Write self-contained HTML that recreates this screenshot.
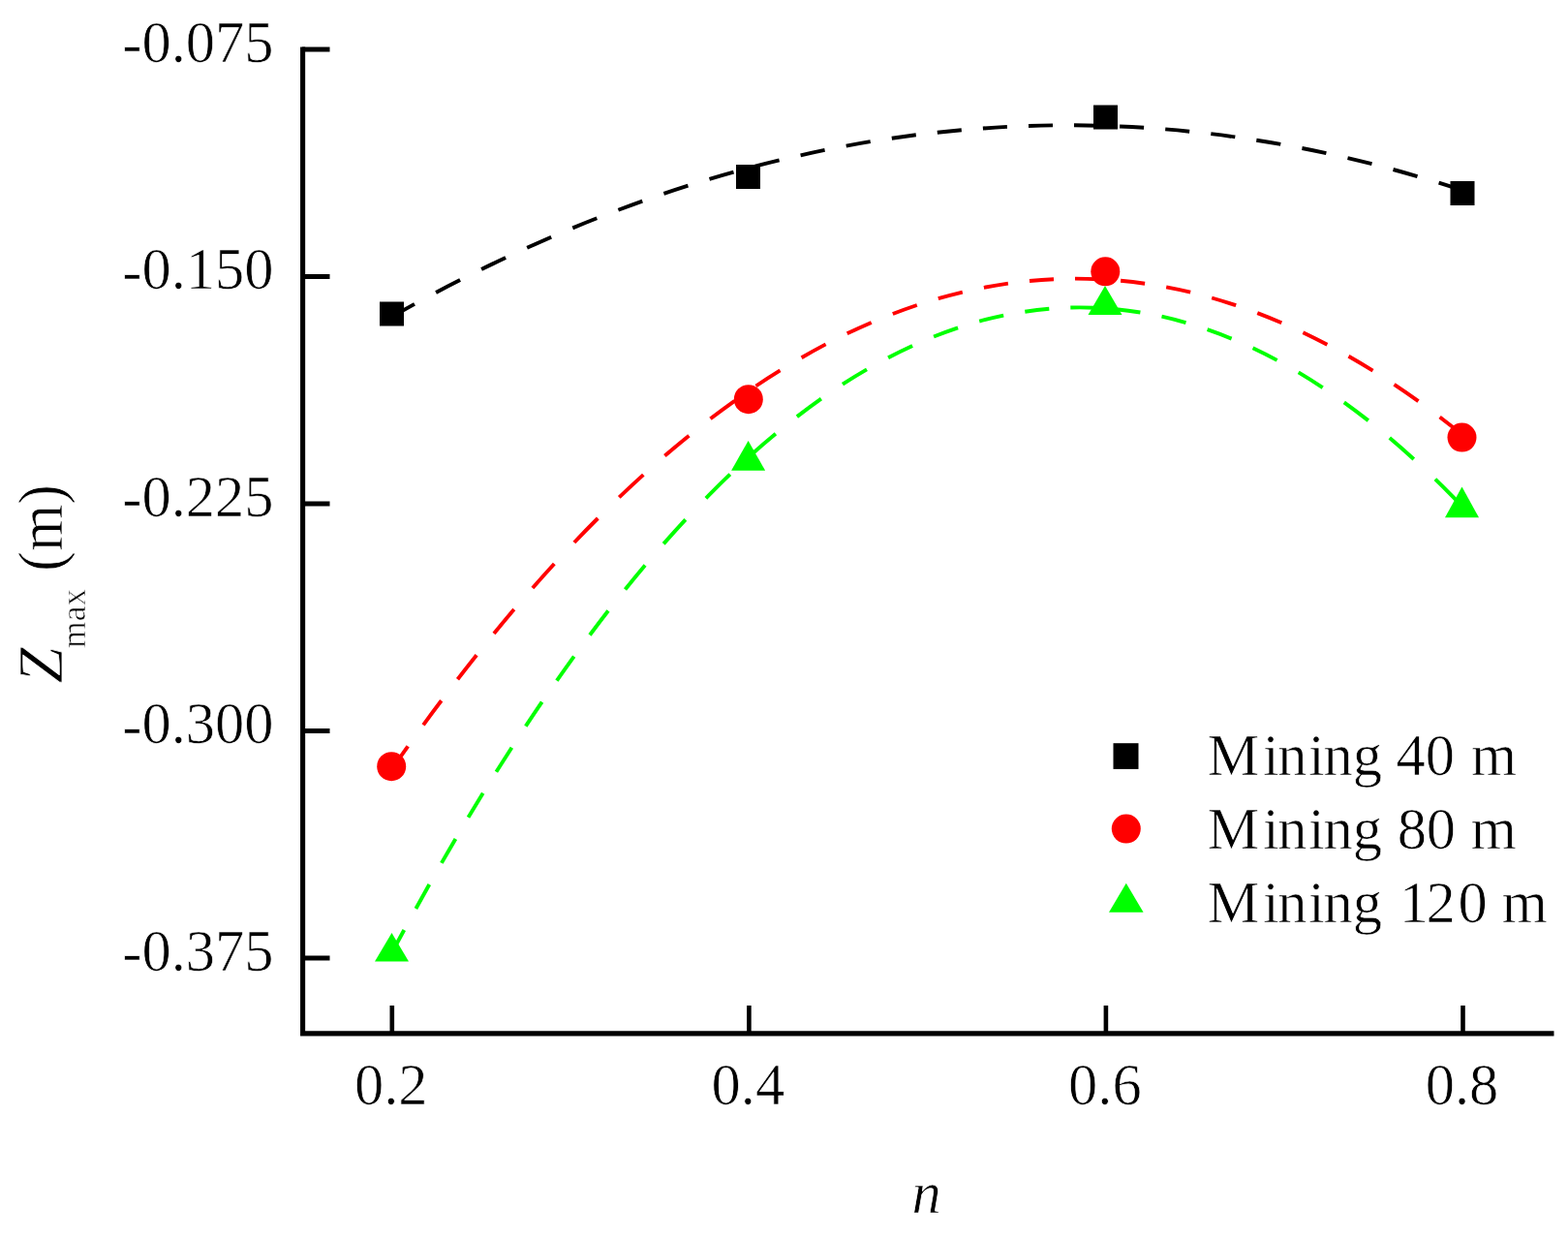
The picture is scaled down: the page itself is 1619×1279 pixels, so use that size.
<!DOCTYPE html>
<html><head><meta charset="utf-8"><style>
html,body{margin:0;padding:0;background:#fff;}
svg{display:block;}
.t{font-family:"Liberation Serif","Times New Roman",serif;font-size:60.5px;fill:#000;stroke:#fff;stroke-width:0.7px;stroke-linejoin:round;}
</style></head><body>
<svg width="1619" height="1279" viewBox="0 0 1619 1279">
<path d="M404.8,326.8Q416.4,320.3 428.0,313.9M450.1,302.0Q462.6,295.4 475.1,289.1M497.1,278.0Q509.6,271.9 522.1,266.0M544.2,255.8Q556.7,250.2 569.2,244.7M591.3,235.4Q603.8,230.2 616.3,225.3M638.4,216.8Q650.8,212.1 663.3,207.6M685.4,199.9Q697.9,195.7 710.4,191.7M732.5,184.9Q745.0,181.2 757.5,177.7M779.6,171.7Q792.1,168.4 804.6,165.4M826.6,160.3Q839.1,157.5 851.6,154.9M873.7,150.6Q886.2,148.3 898.7,146.2M920.8,142.8Q933.3,140.9 945.8,139.3M967.8,136.7Q980.3,135.3 992.8,134.2M1014.9,132.5Q1027.4,131.6 1039.9,130.9M1062.0,130.0Q1074.5,129.6 1087.0,129.4M1109.0,129.3Q1121.5,129.4 1134.0,129.7M1156.1,130.5Q1168.6,131.0 1181.1,131.8M1203.2,133.4Q1215.7,134.4 1228.2,135.7M1250.3,138.1Q1262.8,139.6 1275.3,141.4M1297.3,144.7Q1309.8,146.6 1322.3,148.9M1344.4,153.0Q1356.9,155.4 1369.4,158.1M1391.5,163.1Q1404.0,166.0 1416.5,169.2M1438.5,175.0Q1451.0,178.4 1463.5,182.1M1485.6,188.7Q1498.1,192.6 1510.5,196.7" fill="none" stroke="#000000" stroke-width="3.9"/>
<path d="M404.8,793.5Q413.0,781.8 421.2,770.3M437.1,748.3Q446.4,735.6 455.7,723.3M472.5,701.2Q482.3,688.5 492.1,676.2M510.0,654.1Q520.4,641.4 530.8,629.1M549.9,607.0Q561.1,594.3 572.3,582.0M592.9,560.0Q605.1,547.2 617.3,535.0M639.3,513.4Q651.8,501.4 664.3,490.1M686.4,470.6Q698.9,459.8 711.4,449.7M733.5,432.3Q746.0,422.7 758.5,413.8M780.5,398.5Q793.0,390.1 805.5,382.4M827.6,369.2Q840.1,362.0 852.6,355.4M874.7,344.3Q887.2,338.4 899.7,333.0M921.8,324.0Q934.3,319.2 946.8,315.0M968.8,308.2Q981.3,304.6 993.8,301.6M1015.9,296.8Q1028.4,294.4 1040.9,292.6M1063.0,290.0Q1075.5,288.8 1088.0,288.2M1110.0,287.6Q1122.5,287.6 1135.0,288.2M1157.1,289.8Q1169.6,290.9 1182.1,292.7M1204.2,296.4Q1216.7,298.7 1229.2,301.7M1251.2,307.5Q1263.7,311.1 1276.2,315.2M1298.3,323.1Q1310.8,327.9 1323.3,333.2M1345.4,343.2Q1357.9,349.2 1370.4,355.7M1392.5,367.8Q1405.0,374.9 1417.5,382.7M1439.5,396.9Q1452.0,405.2 1464.5,414.2M1486.6,430.5Q1498.5,439.6 1510.5,449.3" fill="none" stroke="#ff0000" stroke-width="3.9"/>
<path d="M404.8,983.2Q411.0,971.5 417.3,960.0M429.4,938.0Q436.4,925.3 443.3,913.0M455.9,890.9Q463.2,878.2 470.4,865.9M483.5,843.8Q491.1,831.2 498.7,818.8M512.4,796.7Q520.4,784.1 528.4,771.7M542.8,749.7Q551.2,737.0 559.6,724.7M574.9,702.6Q583.8,689.9 592.7,677.6M609.0,655.5Q618.5,642.8 628.0,630.5M645.5,608.5Q655.8,595.7 666.1,583.5M685.2,561.4Q696.5,548.6 707.8,536.4M728.9,514.3Q741.3,501.6 753.8,489.7M775.9,469.3Q788.4,458.1 800.9,447.8M822.9,430.1Q835.4,420.5 847.9,411.6M870.0,396.7Q882.5,388.6 895.0,381.4M917.1,369.2Q929.6,362.6 942.1,356.9M964.1,347.5Q976.6,342.5 989.1,338.3M1011.2,331.6Q1023.7,328.2 1036.2,325.6M1058.3,321.7Q1070.8,319.8 1083.3,318.7M1105.3,317.5Q1117.8,317.2 1130.3,317.7M1152.4,319.2Q1164.9,320.4 1177.4,322.5M1199.5,326.7Q1212.0,329.5 1224.5,333.1M1246.6,340.1Q1259.1,344.4 1271.6,349.6M1293.6,359.3Q1306.1,365.2 1318.6,371.9M1340.7,384.4Q1353.2,391.9 1365.7,400.1M1387.8,415.3Q1400.3,424.3 1412.8,434.1M1434.8,452.1Q1447.3,462.7 1459.8,474.0M1481.9,494.7Q1494.3,506.7 1506.7,519.5" fill="none" stroke="#00ff00" stroke-width="3.9"/>
<rect x="392.0" y="311.5" width="25" height="25" fill="#000"/>
<rect x="760.0" y="170.0" width="25" height="25" fill="#000"/>
<rect x="1129.0" y="108.5" width="25" height="25" fill="#000"/>
<rect x="1497.5" y="187.0" width="25" height="25" fill="#000"/>
<circle cx="404.2" cy="791.2" r="15" fill="#ff0000"/>
<circle cx="772.8" cy="412.2" r="15" fill="#ff0000"/>
<circle cx="1141.3" cy="280.3" r="15" fill="#ff0000"/>
<circle cx="1509.5" cy="451.6" r="15" fill="#ff0000"/>
<polygon points="404.5,963 422.0,992.5 387.0,992.5" fill="#00ff00"/>
<polygon points="772.6,455 790.1,485.7 755.1,485.7" fill="#00ff00"/>
<polygon points="1141.0,295 1158.5,325 1123.5,325" fill="#00ff00"/>
<polygon points="1509.5,502.5 1527.0,534.3 1492.0,534.3" fill="#00ff00"/>
<path d="M312.6,48.5 V1069.5 M310.1,1066.9 H1604.5" stroke="#000" stroke-width="5.1" fill="none"/>
<line x1="312" y1="51.0" x2="340.5" y2="51.0" stroke="#000" stroke-width="5"/>
<line x1="312" y1="285.5" x2="340.5" y2="285.5" stroke="#000" stroke-width="5"/>
<line x1="312" y1="520.0" x2="340.5" y2="520.0" stroke="#000" stroke-width="5"/>
<line x1="312" y1="754.5" x2="340.5" y2="754.5" stroke="#000" stroke-width="5"/>
<line x1="312" y1="989.0" x2="340.5" y2="989.0" stroke="#000" stroke-width="5"/>
<line x1="404.8" y1="1038" x2="404.8" y2="1066" stroke="#000" stroke-width="4.6"/>
<line x1="773.4" y1="1038" x2="773.4" y2="1066" stroke="#000" stroke-width="4.6"/>
<line x1="1141.9" y1="1038" x2="1141.9" y2="1066" stroke="#000" stroke-width="4.6"/>
<line x1="1510.5" y1="1038" x2="1510.5" y2="1066" stroke="#000" stroke-width="4.6"/>
<text x="282.5" y="63.6" text-anchor="end" class="t"><tspan dy="1.5">-</tspan><tspan dy="-1.5">0.075</tspan></text>
<text x="282.5" y="298.1" text-anchor="end" class="t"><tspan dy="1.5">-</tspan><tspan dy="-1.5">0.150</tspan></text>
<text x="282.5" y="532.6" text-anchor="end" class="t"><tspan dy="1.5">-</tspan><tspan dy="-1.5">0.225</tspan></text>
<text x="282.5" y="767.1" text-anchor="end" class="t"><tspan dy="1.5">-</tspan><tspan dy="-1.5">0.300</tspan></text>
<text x="282.5" y="1001.6" text-anchor="end" class="t"><tspan dy="1.5">-</tspan><tspan dy="-1.5">0.375</tspan></text>
<text x="403.8" y="1140" text-anchor="middle" class="t">0.2</text>
<text x="772.4" y="1140" text-anchor="middle" class="t">0.4</text>
<text x="1140.9" y="1140" text-anchor="middle" class="t">0.6</text>
<text x="1509.5" y="1140" text-anchor="middle" class="t">0.8</text>
<text x="956.5" y="1251.5" text-anchor="middle" class="t" font-style="italic" font-size="58">n</text>
<text transform="translate(63.7,705) rotate(-90)" class="t"><tspan x="-0.3" y="0" font-style="italic" font-size="66">Z</tspan><tspan x="36.1" y="24.5" font-size="35.5">max </tspan><tspan x="115.3" y="0" font-size="65" textLength="89.5" lengthAdjust="spacingAndGlyphs">(m)</tspan></text>
<rect x="1149.5" y="767.2" width="26" height="26.7" fill="#000"/>
<circle cx="1162.8" cy="855.6" r="15" fill="#ff0000"/>
<polygon points="1162.8,911.7 1180.6,941.7 1145,941.7" fill="#00ff00"/>
<text x="1246.6 1303.9 1319.3 1351.1 1366.6 1396.8 1427.6 1441.4 1471.7 1502.5 1519.1" y="799.5" class="t" font-size="61.5">Mining 40 m</text>
<text x="1246.6 1303.9 1319.3 1351.1 1366.6 1396.8 1427.6 1442.8 1472.7 1503.5 1518.7" y="875.5" class="t" font-size="61.5">Mining 80 m</text>
<text x="1246.6 1303.9 1319.3 1351.1 1366.6 1396.8 1427.6 1444.8 1472.4 1505.4 1536.2 1550.7" y="951.5" class="t" font-size="61.5">Mining 120 m</text>
</svg>
</body></html>
